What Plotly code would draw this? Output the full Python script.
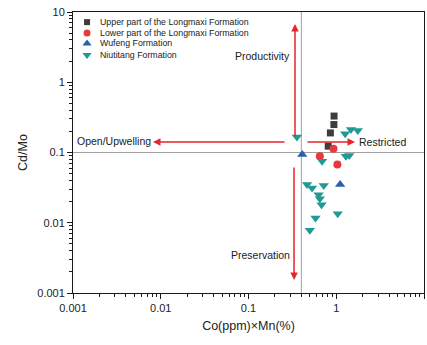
import math
import plotly.graph_objects as go

# ---- data ----
upper_x = [0.944, 0.94, 0.857, 0.81]
upper_y = [0.33, 0.25, 0.19, 0.123]

lower_x = [0.93, 0.65, 1.03]
lower_y = [0.113, 0.0886, 0.0674]

wufeng_x = [0.41, 1.107]
wufeng_y = [0.0936, 0.0349]

niu_x = [0.356, 1.265, 1.47, 1.76, 1.406, 1.288, 0.69, 0.465, 0.53, 0.72,
         0.63, 0.65, 0.68, 0.58, 1.04, 0.50]
niu_y = [0.166, 0.185, 0.213, 0.206, 0.0906, 0.0886, 0.075, 0.0349, 0.0313, 0.0338,
         0.0251, 0.022, 0.018, 0.0117, 0.0134, 0.0078]

series_names = ["Upper part of the Longmaxi Formation", "Lower part of the Longmaxi Formation",
                "Wufeng Formation", "Niutitang Formation"]

x_threshold = 0.4
y_threshold = 0.1

tick_vals = [0.001, 0.01, 0.1, 1, 10]
tick_text = ["0.001", "0.01", "0.1", "1", "10"]
minor_vals = [m * 10 ** e for e in range(-3, 1) for m in range(2, 10)]

FONT = "Liberation Sans, Arial, sans-serif"
RED = "#e3262b"

styles = [
    dict(symbol="square", size=7, color="#3d3d3d"),
    dict(symbol="circle", size=8, color="#e8383d"),
    dict(symbol="triangle-up", size=9, color="#2b5fae"),
    dict(symbol="triangle-down", size=9, color="#1f9a95"),
]
legend_styles = [
    dict(symbol="square", size=6, color="#3d3d3d"),
    dict(symbol="circle", size=7, color="#e8383d"),
    dict(symbol="triangle-up", size=8, color="#2b5fae"),
    dict(symbol="triangle-down", size=8, color="#1f9a95"),
]

fig = go.Figure()

# reference lines
fig.add_trace(go.Scatter(x=[x_threshold, x_threshold], y=[0.001, 10], mode="lines",
                         line=dict(color="#a0a0a0", width=1), showlegend=False, hoverinfo="skip"))
fig.add_trace(go.Scatter(x=[0.001, 10], y=[y_threshold, y_threshold], mode="lines",
                         line=dict(color="#a0a0a0", width=1), showlegend=False, hoverinfo="skip"))

for (xs, ys), name, st in zip([(upper_x, upper_y), (lower_x, lower_y), (wufeng_x, wufeng_y), (niu_x, niu_y)],
                              series_names, styles):
    fig.add_trace(go.Scatter(x=xs, y=ys, mode="markers", name=name, marker=st, showlegend=False))

# compact legend drawn on an overlay axis (0..1 paper-like units)
legend_mx = 0.04
legend_tx = 0.071
legend_rows = [0.964, 0.925, 0.888, 0.847]
for name, st, ry in zip(series_names, legend_styles, legend_rows):
    fig.add_trace(go.Scatter(x=[legend_mx], y=[ry], mode="markers", marker=st, xaxis="x2", yaxis="y2",
                             showlegend=False, hoverinfo="skip"))
    fig.add_annotation(x=legend_tx, y=ry, xref="paper", yref="paper", text=name, showarrow=False,
                       xanchor="left", yanchor="middle", font=dict(family=FONT, size=8.8, color="#222"))

# arrows (log10 units, as plotly annotations on log axes require)
arrows = [
    # (head_x, head_y, tail_x, tail_y)
    (-0.470, 0.829, -0.470, -0.794),
    (-0.481, -2.815, -0.481, -1.192),
    (-2.088, -0.851, -0.573, -0.851),
    (0.214, -0.851, -0.345, -0.851),
]
for hx, hy, tx, ty in arrows:
    fig.add_annotation(x=hx, y=hy, ax=tx, ay=ty, xref="x", yref="y", axref="x", ayref="y",
                       showarrow=True, arrowhead=2, arrowsize=1.0, arrowwidth=1.5,
                       arrowcolor=RED, text="")

labels = [
    ("Productivity", -0.835, 0.374, "center"),
    ("Preservation", -0.869, -2.459, "center"),
    ("Open/Upwelling", -2.533, -0.836, "center"),
    ("Restricted", 0.236, -0.851, "left"),
]
for txt, lx, ly, anc in labels:
    fig.add_annotation(x=lx, y=ly, xref="x", yref="y", text=txt, showarrow=False,
                       xanchor=anc, yanchor="middle",
                       font=dict(family=FONT, size=10.5, color="#1a1a1a"))

axis_common = dict(
    type="log", range=[-3, 1], showgrid=False, zeroline=False,
    showline=True, linecolor="#1a1a1a", linewidth=1, mirror=True,
    ticks="outside", ticklen=5, tickwidth=1, tickcolor="#1a1a1a",
    tickvals=tick_vals, ticktext=tick_text,
    tickfont=dict(family=FONT, size=11, color="#222"),
    minor=dict(tickvals=minor_vals, ticks="outside", ticklen=3, tickcolor="#1a1a1a", showgrid=False),
)

fig.update_layout(
    width=427, height=345,
    margin=dict(l=73, r=3, t=12, b=52),
    paper_bgcolor="white", plot_bgcolor="white",
    font=dict(family=FONT, color="#222"),
    xaxis=dict(axis_common, title=dict(text="Co(ppm)×Mn(%)", font=dict(family=FONT, size=12.5), standoff=8)),
    yaxis=dict(axis_common, title=dict(text="Cd/Mo", font=dict(family=FONT, size=12.5), standoff=6)),
    xaxis2=dict(overlaying="x", range=[0, 1], visible=False, fixedrange=True),
    yaxis2=dict(overlaying="y", range=[0, 1], visible=False, fixedrange=True),
    showlegend=False,
)

fig.write_html("out.html")
